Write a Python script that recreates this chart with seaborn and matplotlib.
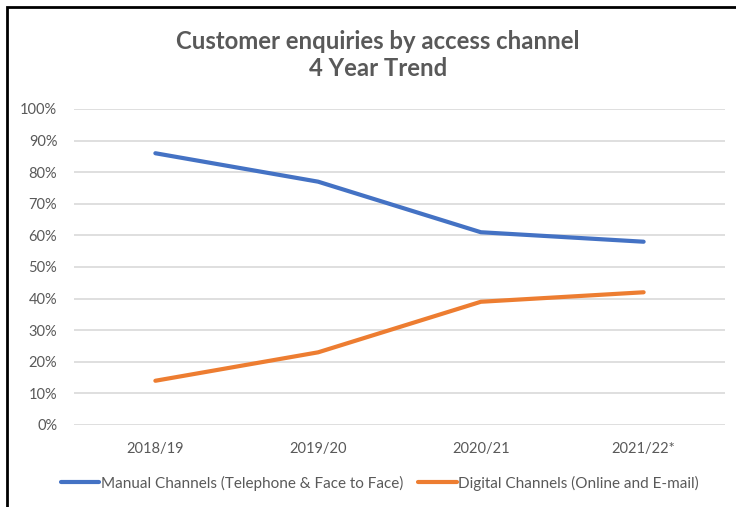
import matplotlib
matplotlib.use("Agg")
import matplotlib.pyplot as plt
import seaborn as sns
import pandas as pd
from matplotlib.ticker import FuncFormatter
from matplotlib.patches import Rectangle

years = ["2018/19", "2019/20", "2020/21", "2021/22*"]
manual = [0.86, 0.77, 0.61, 0.58]
digital = [0.14, 0.23, 0.39, 0.42]
series_names = ["Manual Channels (Telephone & Face to Face)", "Digital Channels (Online and E-mail)"]
colors = ["#4472C4", "#ED7D31"]
title = "Customer enquiries by access channel\n4 Year Trend"

sns.set_theme(style="white")
plt.rcParams["font.family"] = ["Lato", "DejaVu Sans"]

df = pd.DataFrame({
    "year": years * 2,
    "pos": list(range(len(years))) * 2,
    "value": manual + digital,
    "series": [series_names[0]] * len(years) + [series_names[1]] * len(years),
})

fig = plt.figure(figsize=(7.36, 5.07), dpi=100)
ax = fig.add_axes([74 / 736, 1 - 425 / 507, (725 - 74) / 736, (425 - 109) / 507])

sns.lineplot(data=df, x="pos", y="value", hue="series", palette=colors,
             linewidth=3, ax=ax, legend=True, solid_capstyle="round")

ax.set_xlim(-0.5, len(years) - 0.5)
ax.set_ylim(0, 1)
ax.set_yticks([i / 10 for i in range(11)])
ax.yaxis.set_major_formatter(FuncFormatter(lambda v, p: f"{v*100:.0f}%"))
ax.set_xticks(range(len(years)))
ax.set_xticklabels(years)
ax.grid(axis="y", color="#D9D9D9", linewidth=1.2)
ax.grid(axis="x", visible=False)
for s in ax.spines.values():
    s.set_visible(False)
ax.tick_params(axis="both", length=0, labelsize=10.5, colors="#595959")
ax.tick_params(axis="y", pad=12)
ax.tick_params(axis="x", pad=12)
ax.set_xlabel("")
ax.set_ylabel("")

handles, labels = ax.get_legend_handles_labels()
ax.legend(handles, labels, loc="center", bbox_to_anchor=(380 / 736, 1 - 483 / 507),
          bbox_transform=fig.transFigure, ncol=2, frameon=False, fontsize=11,
          handlelength=2.5, handletextpad=0.1, columnspacing=1.0, labelcolor="#595959")

fig.text(378 / 736, 1 - 55 / 507, title, ha="center", va="center", fontsize=17.2,
         fontweight="bold", color="#595959", linespacing=1.25)

fig.patches.append(Rectangle((7 / 736, -0.1), 1.0, 1 - 7 / 507 + 0.1, transform=fig.transFigure,
                             fill=False, edgecolor="black", linewidth=2, zorder=10))

fig.savefig("out.png", dpi=100)
